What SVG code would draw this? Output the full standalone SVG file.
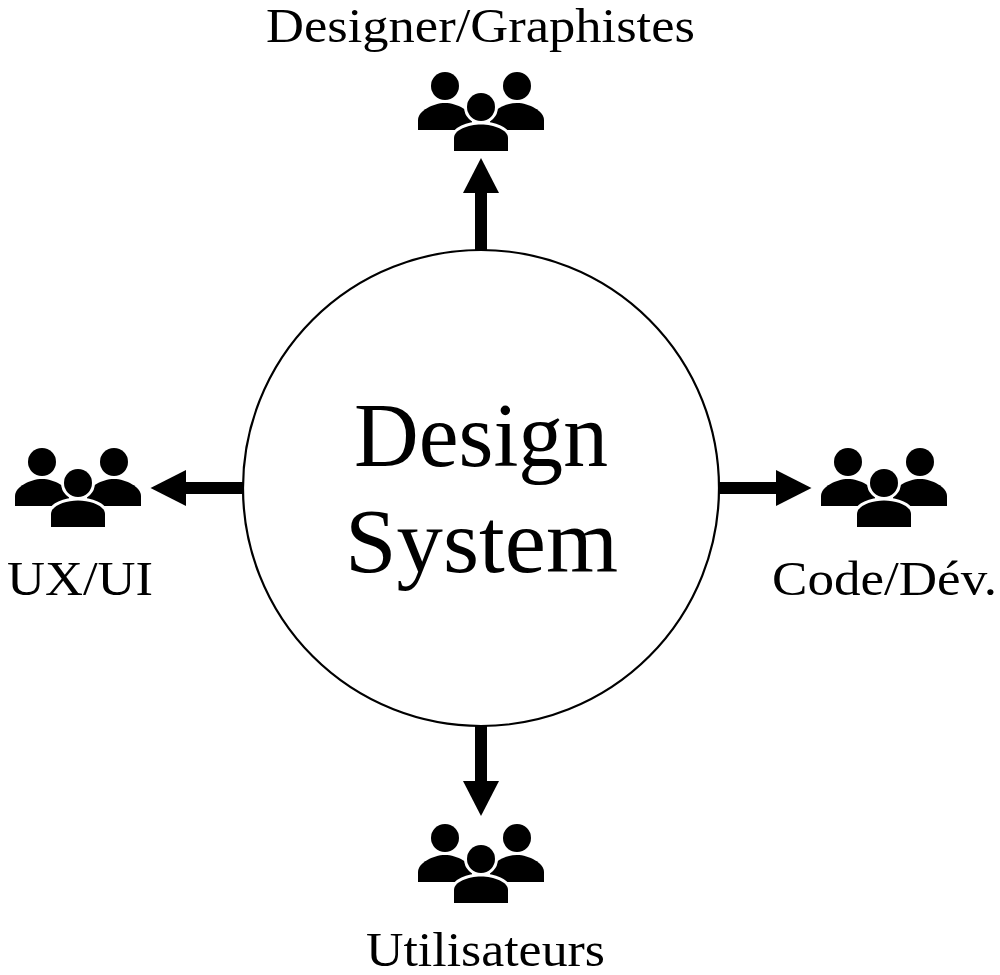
<svg xmlns="http://www.w3.org/2000/svg" width="1000" height="975" viewBox="0 0 1000 975">
<style>
text{font-family:"Liberation Serif","DejaVu Serif",serif;fill:#000;text-anchor:middle}
.l{font-size:49px}
.c{font-size:90px}
.a{stroke:#000;stroke-width:12;fill:none}
.halo{stroke:#fff;stroke-width:6;paint-order:stroke}
</style>
<defs>
<g id="people">
<circle cx="-36" cy="-33" r="14"/>
<circle cx="36" cy="-33" r="14"/>
<path d="M-63 11V1C-63 -8 -48 -16 -36 -16S-9 -8 -9 1V11Z"/>
<path d="M63 11V1C63 -8 48 -16 36 -16S9 -8 9 1V11Z"/>
<circle class="halo" cx="0" cy="-12" r="14"/>
<path class="halo" d="M-27 32V19C-27 11 -13 5.5 0 5.5S27 11 27 19V32Z"/>
</g>
</defs>
<g id="connectors">
<path class="a" d="M481 250V190"/><polygon points="481,158 463,193 499,193"/>
<path class="a" d="M481 726V785"/><polygon points="481,816 463,781 499,781"/>
<path class="a" d="M243 488H184"/><polygon points="150.500,488 186,470 186,506"/>
<path class="a" d="M719 488H778"/><polygon points="811.500,488 776,470 776,506"/>
</g>
<g id="center"><circle cx="481" cy="488" r="238" fill="#fff" stroke="#000" stroke-width="2.2"/>
<text class="c" x="481" y="466" textLength="254" lengthAdjust="spacingAndGlyphs">Design</text><text class="c" x="481.5" y="572" textLength="273" lengthAdjust="spacingAndGlyphs">System</text></g>
<g id="designer"><use href="#people" x="481" y="119"/><text class="l" x="480.5" y="42" textLength="429" lengthAdjust="spacingAndGlyphs">Designer/Graphistes</text></g>
<g id="utilisateurs"><use href="#people" x="481" y="871"/><text class="l" x="485.5" y="966" textLength="239" lengthAdjust="spacingAndGlyphs">Utilisateurs</text></g>
<g id="ux"><use href="#people" x="78" y="495"/><text class="l" x="80" y="595" textLength="146" lengthAdjust="spacingAndGlyphs">UX/UI</text></g>
<g id="code"><use href="#people" x="884" y="495"/><text class="l" x="884.5" y="595" textLength="225" lengthAdjust="spacingAndGlyphs">Code/Dév.</text></g>
</svg>
